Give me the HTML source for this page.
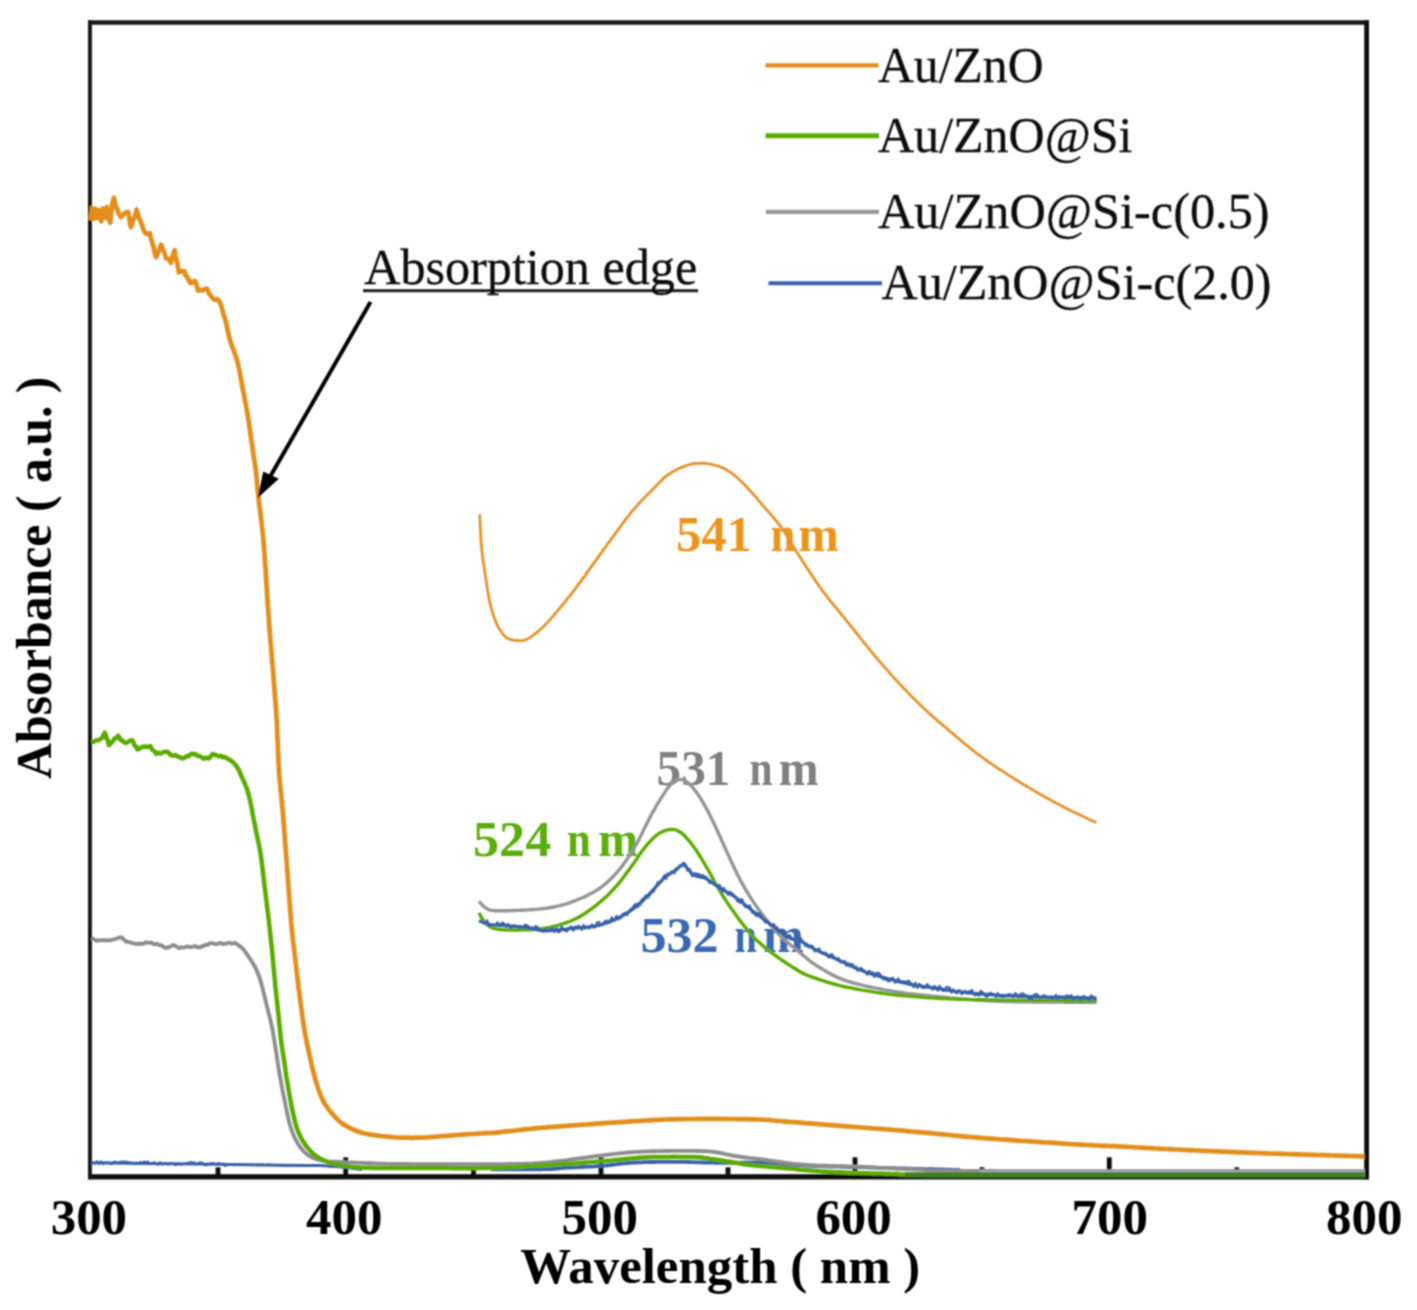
<!DOCTYPE html>
<html lang="en"><head><meta charset="utf-8"><title>UV-vis absorbance</title>
<style>html,body{margin:0;padding:0;background:#fff}svg{display:block}</style></head>
<body>
<svg width="1417" height="1310" viewBox="0 0 1417 1310">
<defs><filter id="bl" x="-2%" y="-2%" width="104%" height="104%"><feConvolveMatrix order="3" kernelMatrix="1 2 1 2 4 2 1 2 1" divisor="16" edgeMode="duplicate" preserveAlpha="false"/></filter></defs>
<rect width="1417" height="1310" fill="#fff"/>
<g filter="url(#bl)">
<rect x="88" y="20.3" width="1281" height="4.4" fill="#151515"/>
<rect x="88" y="1174.2" width="1281" height="5.2" fill="#0c0c0c"/>
<rect x="88" y="20.3" width="3.9" height="1159" fill="#151515"/>
<rect x="1364.2" y="20.3" width="4.8" height="1159" fill="#0c0c0c"/>
<rect x="343.3" y="1157.3" width="4.8" height="18" fill="#111"/>
<rect x="598.6" y="1157.3" width="4.8" height="18" fill="#111"/>
<rect x="852.6" y="1157.3" width="4.8" height="18" fill="#111"/>
<rect x="1106.9" y="1157.3" width="4.8" height="18" fill="#111"/>
<rect x="215.6" y="1167.3" width="4.8" height="8" fill="#111"/>
<rect x="471.1" y="1167.3" width="4.8" height="8" fill="#111"/>
<rect x="725.6" y="1167.3" width="4.8" height="8" fill="#111"/>
<rect x="979.6" y="1167.3" width="4.8" height="8" fill="#111"/>
<rect x="1234.4" y="1167.3" width="4.8" height="8" fill="#111"/>
<path d="M491.0,1169.3 L492.7,1169.3 L494.9,1169.3 L497.4,1169.3 L500.2,1169.3 L503.2,1169.3 L506.5,1169.3 L510.0,1169.3 L513.5,1169.3 L517.2,1169.3 L520.9,1169.3 L524.5,1169.3 L528.1,1169.3 L531.7,1169.3 L535.0,1169.3 L538.2,1169.3 L541.1,1169.3 L543.7,1169.2 L546.0,1169.2 L550.7,1169.1 L554.1,1168.9 L556.7,1168.7 L558.9,1168.4 L561.0,1168.2 L563.6,1167.9 L567.0,1167.7 L569.6,1167.6 L572.5,1167.4 L575.5,1167.3 L578.6,1167.2 L581.8,1167.0 L585.1,1166.9 L588.4,1166.7 L591.7,1166.6 L594.9,1166.4 L598.0,1166.2 L601.0,1166.0 L604.4,1165.7 L607.6,1165.3 L610.7,1165.0 L613.8,1164.6 L616.8,1164.2 L619.9,1163.8 L623.2,1163.4 L626.8,1163.1 L630.6,1162.8 L633.2,1162.7 L635.9,1162.5 L638.8,1162.4 L641.7,1162.3 L644.6,1162.2 L647.7,1162.1 L650.7,1162.0 L653.9,1162.0 L657.0,1161.9 L660.2,1161.9 L663.4,1161.8 L666.6,1161.8 L669.8,1161.8 L673.0,1161.8 L676.0,1161.8 L679.0,1161.8 L682.0,1161.9 L685.1,1161.9 L688.1,1162.0 L691.2,1162.1 L694.3,1162.2 L697.4,1162.3 L700.6,1162.4 L703.7,1162.5 L706.8,1162.6 L710.0,1162.6 L713.2,1162.7 L716.3,1162.8 L719.5,1162.8 L722.5,1162.8 L725.5,1162.8 L728.6,1162.8 L731.8,1162.8 L734.9,1162.8 L738.0,1162.8 L741.2,1162.7 L744.3,1162.7 L747.5,1162.7 L750.6,1162.6 L753.6,1162.6 L756.6,1162.6 L759.6,1162.6 L762.5,1162.7 L765.3,1162.7 L768.0,1162.8 L771.4,1162.9 L774.5,1163.1 L777.4,1163.3 L780.1,1163.6 L782.7,1163.8 L785.3,1164.1 L788.0,1164.3 L790.9,1164.6 L793.9,1164.9 L797.2,1165.1 L800.9,1165.4 L805.0,1165.6 L807.4,1165.7 L809.9,1165.8 L812.4,1165.9 L815.1,1166.0 L817.8,1166.1 L820.5,1166.2 L823.4,1166.3 L826.3,1166.4 L829.2,1166.5 L832.2,1166.5 L835.3,1166.6 L838.4,1166.7 L841.6,1166.8 L844.8,1166.9 L848.1,1167.0 L851.4,1167.0 L854.7,1167.1 L858.1,1167.2 L861.6,1167.3 L865.0,1167.4 L868.5,1167.5 L872.0,1167.6 L874.7,1167.7 L877.6,1167.8 L880.7,1167.8 L883.8,1167.9 L887.0,1168.0 L890.3,1168.1 L893.7,1168.2 L897.2,1168.3 L900.7,1168.4 L904.2,1168.5 L907.8,1168.6 L911.3,1168.7 L914.9,1168.8 L918.4,1168.9 L921.9,1169.0 L925.4,1169.1 L928.8,1169.2 L932.1,1169.2 L935.3,1169.3 L938.5,1169.4 L941.5,1169.5 L944.4,1169.6 L947.2,1169.7 L949.8,1169.7 L952.2,1169.8 L954.5,1169.8 L956.5,1169.9 L958.4,1170.0 L960.0,1170.0" fill="none" stroke="#3A62A8" stroke-width="3.8" stroke-linejoin="round" stroke-linecap="butt" />
<path d="M91.3,938.1 L93.2,938.9 L95.0,939.9 L96.9,940.8 L98.9,940.1 L100.9,940.4 L102.9,940.2 L105.0,940.2 L107.0,940.5 L109.0,940.1 L111.0,940.2 L112.8,939.5 L114.7,939.4 L116.5,938.4 L118.4,937.9 L120.2,937.3 L121.8,937.5 L123.3,939.0 L124.9,940.7 L126.4,941.7 L128.0,941.8 L130.1,942.3 L132.2,943.3 L134.4,943.4 L136.5,944.1 L138.4,943.5 L140.2,944.0 L142.1,943.8 L144.0,943.6 L145.8,942.2 L147.7,942.6 L149.6,942.9 L151.5,942.5 L153.3,943.9 L155.2,944.4 L157.1,943.7 L159.0,945.1 L160.7,945.1 L162.4,945.9 L164.1,947.3 L165.8,947.8 L167.5,947.5 L169.4,947.0 L171.3,946.2 L173.2,945.0 L175.1,945.7 L176.9,946.8 L178.8,948.3 L180.8,947.1 L182.8,947.7 L184.8,947.3 L186.9,946.5 L188.9,946.8 L190.9,947.0 L192.9,946.6 L194.9,946.0 L196.9,947.3 L198.8,947.0 L200.8,947.3 L202.8,946.0 L204.6,945.5 L206.4,944.5 L208.1,944.7 L209.9,943.3 L211.7,943.1 L213.5,943.5 L215.3,944.1 L217.1,944.0 L218.9,943.2 L220.7,943.0 L222.5,944.1 L224.3,943.6 L226.1,943.8 L227.9,942.9 L229.7,942.8 L231.5,943.7 L233.3,943.3 L235.1,942.8 L237.9,944.9 L241.5,947.4 L243.6,949.8 L245.8,952.6 L247.9,955.7 L250.1,958.9 L252.3,962.3 L254.3,965.7 L256.0,969.0 L257.5,972.2 L258.9,975.8 L259.9,978.8 L260.8,981.9 L261.7,985.2 L262.6,988.6 L263.3,991.4 L264.0,994.3 L264.8,997.3 L265.5,1000.3 L266.2,1003.3 L266.9,1006.2 L267.7,1009.1 L268.4,1012.1 L269.2,1015.0 L269.9,1018.0 L270.6,1020.9 L271.2,1023.6 L271.8,1026.4 L272.5,1029.7 L273.2,1033.6 L273.6,1036.2 L274.1,1039.1 L274.6,1042.2 L275.1,1045.5 L275.6,1048.8 L276.2,1052.2 L276.7,1055.4 L277.1,1058.5 L277.6,1061.4 L278.1,1064.8 L278.6,1068.0 L279.1,1071.0 L279.6,1073.9 L280.1,1076.8 L280.6,1079.7 L281.1,1082.7 L281.7,1085.8 L282.2,1088.8 L282.8,1091.9 L283.4,1094.9 L284.0,1098.0 L284.7,1101.0 L285.3,1104.1 L285.9,1107.2 L286.6,1110.4 L287.3,1113.6 L287.9,1116.8 L288.6,1119.9 L289.4,1122.8 L290.1,1125.5 L291.2,1129.0 L292.3,1132.1 L293.5,1135.1 L294.7,1137.8 L296.0,1140.4 L297.7,1143.5 L299.6,1146.3 L301.5,1148.8 L303.5,1151.1 L306.2,1153.7 L309.0,1155.8 L312.0,1157.5 L315.2,1158.9 L318.6,1159.9 L322.7,1160.7 L325.6,1161.1 L328.7,1161.4 L332.1,1161.6 L335.8,1161.8 L339.8,1162.0 L342.5,1162.1 L345.3,1162.3 L348.2,1162.4 L351.3,1162.5 L354.5,1162.6 L357.8,1162.8 L361.3,1162.9 L365.0,1163.0 L367.5,1163.1 L369.6,1163.2 L371.6,1163.3 L373.5,1163.4 L375.6,1163.5 L377.9,1163.6 L380.7,1163.7 L384.2,1163.8 L388.5,1163.9 L393.7,1164.0 L400.0,1164.0 L402.0,1164.0 L404.2,1164.0 L406.6,1164.0 L409.0,1164.0 L411.6,1164.1 L414.3,1164.1 L417.2,1164.1 L420.1,1164.1 L423.1,1164.1 L426.2,1164.1 L429.4,1164.1 L432.7,1164.1 L436.0,1164.2 L439.4,1164.2 L442.8,1164.2 L446.3,1164.2 L449.8,1164.2 L453.3,1164.2 L456.8,1164.2 L460.3,1164.2 L463.9,1164.2 L467.4,1164.2 L470.9,1164.2 L474.4,1164.2 L477.8,1164.2 L481.2,1164.2 L484.6,1164.2 L487.9,1164.2 L491.1,1164.2 L494.3,1164.1 L497.3,1164.1 L500.3,1164.1 L503.2,1164.1 L506.0,1164.1 L508.6,1164.0 L511.2,1164.0 L513.6,1164.0 L515.9,1163.9 L518.0,1163.9 L523.4,1163.8 L528.2,1163.6 L532.5,1163.5 L536.3,1163.3 L539.6,1163.1 L542.6,1162.8 L545.3,1162.6 L547.7,1162.4 L549.9,1162.1 L552.0,1161.9 L554.0,1161.6 L555.9,1161.4 L557.9,1161.2 L560.0,1161.0 L564.7,1160.5 L567.6,1160.1 L569.9,1159.7 L572.9,1159.3 L577.6,1158.6 L579.9,1158.3 L582.5,1158.0 L585.4,1157.6 L588.5,1157.2 L591.7,1156.8 L595.1,1156.3 L598.5,1155.9 L601.9,1155.5 L605.3,1155.0 L608.6,1154.6 L611.8,1154.2 L614.7,1153.9 L617.5,1153.6 L620.0,1153.3 L624.2,1152.9 L627.6,1152.5 L630.6,1152.3 L633.3,1152.1 L636.1,1151.9 L639.3,1151.8 L643.0,1151.6 L645.7,1151.5 L648.7,1151.4 L651.7,1151.3 L654.9,1151.2 L658.2,1151.1 L661.5,1151.1 L664.9,1151.0 L668.3,1151.0 L671.6,1150.9 L674.8,1150.9 L678.0,1150.9 L681.1,1150.9 L684.2,1150.9 L687.4,1150.9 L690.5,1150.9 L693.6,1150.9 L696.7,1151.0 L699.7,1151.0 L702.7,1151.1 L705.6,1151.2 L708.3,1151.4 L711.0,1151.6 L714.4,1152.0 L717.6,1152.5 L720.6,1153.0 L723.5,1153.6 L726.3,1154.3 L729.2,1154.9 L732.1,1155.5 L735.2,1156.0 L738.0,1156.4 L740.7,1156.8 L743.3,1157.2 L746.0,1157.5 L748.8,1157.9 L751.8,1158.2 L754.9,1158.6 L758.3,1159.0 L762.0,1159.5 L764.5,1159.8 L767.2,1160.2 L769.9,1160.6 L772.7,1161.0 L775.6,1161.4 L778.6,1161.8 L781.7,1162.2 L784.8,1162.7 L788.0,1163.1 L791.3,1163.5 L794.6,1163.9 L798.0,1164.2 L801.5,1164.5 L805.0,1164.8 L807.8,1165.0 L810.6,1165.2 L813.6,1165.3 L816.6,1165.5 L819.6,1165.6 L822.7,1165.7 L825.8,1165.8 L829.0,1165.9 L832.1,1166.0 L835.4,1166.0 L838.6,1166.1 L841.8,1166.2 L845.0,1166.3 L848.3,1166.4 L851.5,1166.5 L854.7,1166.6 L857.9,1166.7 L861.0,1166.8 L864.1,1166.9 L867.2,1167.1 L870.3,1167.2 L873.4,1167.4 L876.5,1167.6 L879.6,1167.7 L882.7,1167.9 L885.8,1168.1 L888.9,1168.2 L892.0,1168.4 L895.1,1168.6 L898.3,1168.7 L901.4,1168.9 L904.6,1169.1 L907.8,1169.2 L911.1,1169.3 L914.3,1169.5 L917.6,1169.6 L920.2,1169.7 L922.2,1169.8 L923.6,1169.9 L924.5,1170.0 L925.2,1170.1 L925.7,1170.2 L926.2,1170.2 L926.7,1170.3 L927.3,1170.4 L928.3,1170.5 L929.6,1170.5 L931.5,1170.6 L934.1,1170.6 L937.4,1170.7 L941.6,1170.8 L946.8,1170.8 L953.1,1170.9 L960.7,1170.9 L969.6,1171.0 L980.0,1171.0 L981.8,1171.0 L983.6,1171.0 L985.5,1171.0 L987.5,1171.0 L989.5,1171.0 L991.6,1171.0 L993.7,1171.0 L995.9,1171.0 L998.2,1171.1 L1000.5,1171.1 L1002.8,1171.1 L1005.2,1171.1 L1007.7,1171.1 L1010.2,1171.1 L1012.7,1171.1 L1015.3,1171.1 L1018.0,1171.1 L1020.7,1171.1 L1023.4,1171.1 L1026.2,1171.1 L1029.0,1171.1 L1031.9,1171.1 L1034.8,1171.1 L1037.7,1171.1 L1040.7,1171.1 L1043.7,1171.1 L1046.8,1171.1 L1049.9,1171.1 L1053.0,1171.1 L1056.2,1171.2 L1059.4,1171.2 L1062.6,1171.2 L1065.8,1171.2 L1069.1,1171.2 L1072.4,1171.2 L1075.8,1171.2 L1079.2,1171.2 L1082.6,1171.2 L1086.0,1171.2 L1089.4,1171.2 L1092.9,1171.2 L1096.4,1171.2 L1099.9,1171.2 L1103.4,1171.2 L1106.9,1171.2 L1110.5,1171.2 L1114.1,1171.2 L1117.7,1171.2 L1121.3,1171.2 L1124.9,1171.2 L1128.5,1171.2 L1132.2,1171.2 L1135.8,1171.2 L1139.5,1171.2 L1143.2,1171.2 L1146.8,1171.2 L1150.5,1171.2 L1154.2,1171.2 L1157.9,1171.2 L1161.6,1171.2 L1165.3,1171.2 L1169.0,1171.2 L1172.7,1171.2 L1176.4,1171.2 L1180.1,1171.2 L1183.8,1171.2 L1187.5,1171.2 L1191.2,1171.2 L1194.8,1171.2 L1198.5,1171.2 L1202.2,1171.2 L1205.8,1171.2 L1209.5,1171.2 L1213.1,1171.3 L1216.7,1171.3 L1220.4,1171.3 L1224.0,1171.3 L1227.5,1171.3 L1231.1,1171.3 L1234.6,1171.3 L1238.2,1171.3 L1241.7,1171.3 L1245.2,1171.3 L1248.6,1171.3 L1252.1,1171.3 L1255.5,1171.3 L1258.9,1171.3 L1262.3,1171.3 L1265.6,1171.3 L1269.0,1171.3 L1272.3,1171.3 L1275.5,1171.3 L1278.8,1171.3 L1282.0,1171.3 L1285.1,1171.3 L1288.3,1171.3 L1291.4,1171.3 L1294.4,1171.3 L1297.5,1171.3 L1300.5,1171.3 L1303.4,1171.3 L1306.3,1171.3 L1309.2,1171.3 L1312.0,1171.3 L1314.8,1171.3 L1317.6,1171.3 L1320.3,1171.3 L1322.9,1171.3 L1325.5,1171.3 L1328.1,1171.3 L1330.6,1171.3 L1333.1,1171.3 L1335.5,1171.3 L1337.9,1171.3 L1340.2,1171.3 L1342.4,1171.3 L1344.6,1171.3 L1346.8,1171.3 L1348.9,1171.3 L1350.9,1171.3 L1352.9,1171.3 L1354.8,1171.3 L1356.7,1171.3 L1358.5,1171.3 L1360.2,1171.3 L1361.9,1171.3 L1363.5,1171.3 L1365.0,1171.3" fill="none" stroke="#8E8E8E" stroke-width="3.9" stroke-linejoin="round" stroke-linecap="butt" />
<path d="M91.0,1162.8 L140.0,1163.4 L200.0,1164.0 L260.0,1165.0 L320.0,1165.6 L340.0,1166.8 L362.0,1169.6" fill="none" stroke="#3A62A8" stroke-width="3.0" stroke-linejoin="round" stroke-linecap="butt" />
<path d="M91.0,1164.2 L93.0,1163.1 L95.1,1163.7 L97.1,1161.2 L99.2,1164.0 L101.2,1161.2 L103.2,1164.1 L105.3,1162.6 L107.3,1162.2 L109.4,1163.0 L111.4,1164.4 L113.5,1162.0 L115.5,1161.6 L117.5,1163.0 L119.6,1162.0 L121.6,1161.6 L123.7,1161.8 L125.7,1161.4 L127.8,1162.0 L129.8,1162.4 L131.8,1162.4 L133.9,1164.1 L135.9,1162.4 L138.0,1163.2 L140.0,1162.0 L142.0,1162.7 L144.0,1161.5 L146.0,1162.4 L148.0,1161.5 L150.0,1164.1 L152.0,1163.5 L154.0,1162.2 L156.0,1163.3 L158.0,1164.9 L160.0,1162.0 L162.0,1164.6 L164.0,1163.2 L166.0,1163.4 L168.0,1164.7 L170.0,1163.1 L172.0,1163.5 L174.0,1164.2 L176.0,1165.3 L178.0,1163.0 L180.0,1164.8 L182.0,1164.4 L184.0,1164.1 L186.0,1163.3 L188.0,1163.1 L190.0,1162.1 L192.0,1162.4 L194.0,1162.2 L196.0,1164.6 L198.0,1162.9 L200.0,1162.6 L202.1,1162.4 L204.2,1165.1 L206.2,1165.3 L208.3,1164.6 L210.4,1163.3 L212.5,1163.2 L214.6,1163.4 L216.7,1164.1 L218.8,1163.0 L220.8,1164.1 L222.9,1163.5 L225.0,1166.1 L227.0,1165.1 L229.5,1164.7 L232.1,1164.4 L234.6,1165.2 L237.2,1164.5 L239.7,1164.6 L242.2,1164.3 L244.8,1164.7 L247.3,1164.8 L249.8,1164.9 L252.4,1164.6 L254.9,1164.9 L257.5,1164.5 L260.0,1164.8 L262.5,1164.6 L265.0,1164.9 L267.5,1164.6 L270.0,1164.6 L272.5,1164.9 L275.0,1164.9 L277.5,1165.3 L280.0,1165.2 L282.5,1165.5 L285.0,1165.4 L287.5,1165.5 L290.0,1165.7 L292.5,1165.2 L295.0,1165.2 L297.5,1165.9 L300.0,1165.0 L302.5,1165.6 L305.0,1165.6 L307.5,1165.0 L310.0,1165.8 L312.5,1165.9 L315.0,1165.7 L317.5,1165.8 L320.0,1165.9 L322.5,1165.4 L325.0,1165.9 L327.5,1166.1 L330.0,1166.5 L332.5,1166.7 L335.0,1166.8 L337.5,1166.7 L340.0,1167.2 L342.8,1167.3 L345.5,1167.7 L348.2,1167.6 L351.0,1167.7 L353.8,1168.2 L356.5,1168.8 L359.2,1168.9 L362.0,1169.9" fill="none" stroke="#3A62A8" stroke-width="2.0" stroke-linejoin="round" stroke-linecap="butt" />
<path d="M91.3,741.9 L93.6,741.8 L96.0,740.6 L98.3,740.3 L100.4,739.0 L102.6,737.5 L103.3,735.4 L104.0,734.1 L104.7,732.6 L105.3,734.3 L105.9,735.4 L106.5,737.5 L107.1,739.7 L107.7,740.0 L108.3,743.0 L108.9,745.3 L110.4,743.6 L112.0,742.2 L113.5,740.2 L115.0,738.2 L116.6,738.0 L118.1,735.7 L119.5,738.2 L120.9,740.1 L122.4,740.5 L123.8,742.1 L125.9,742.8 L128.0,742.0 L130.1,740.6 L132.2,740.2 L133.2,741.8 L134.2,744.8 L135.2,746.2 L136.2,746.4 L137.2,749.4 L139.6,748.6 L142.1,746.9 L144.2,746.5 L146.3,747.0 L148.5,746.4 L150.6,746.3 L152.0,749.6 L153.4,750.4 L154.8,751.6 L156.2,753.8 L158.1,752.7 L160.0,753.4 L161.8,753.2 L163.7,751.9 L165.6,751.8 L167.5,751.8 L168.9,752.9 L170.3,754.8 L171.7,755.3 L173.6,755.6 L175.5,755.1 L177.4,756.6 L179.5,756.9 L181.6,758.5 L183.4,757.9 L185.1,757.7 L186.9,755.9 L188.7,756.1 L190.4,754.4 L192.2,753.7 L193.9,754.4 L195.5,754.1 L197.2,755.7 L199.3,756.2 L201.4,756.9 L203.7,758.7 L206.1,757.7 L208.4,758.5 L209.8,757.6 L211.3,755.8 L212.7,754.0 L214.6,754.7 L216.7,755.4 L218.9,756.5 L221.0,755.7 L222.8,757.2 L224.7,757.1 L226.5,757.8 L228.3,759.3 L230.8,760.4 L233.8,762.9 L236.2,765.8 L238.4,769.3 L239.7,771.9 L240.9,774.8 L242.1,777.6 L244.0,781.7 L245.7,785.8 L247.2,789.8 L248.5,794.1 L249.3,797.2 L250.1,800.6 L250.8,804.1 L251.4,807.0 L252.0,810.0 L252.5,813.1 L253.1,816.1 L253.6,818.8 L254.1,821.4 L254.7,824.3 L255.4,828.0 L255.9,830.7 L256.6,833.7 L257.3,837.0 L258.0,840.5 L258.7,843.9 L259.4,847.1 L259.9,850.0 L260.5,853.5 L261.0,856.7 L261.4,859.6 L261.8,862.7 L262.2,866.0 L262.6,869.0 L262.9,872.1 L263.3,875.3 L263.7,878.6 L264.1,881.9 L264.5,885.4 L264.9,888.5 L265.3,891.6 L265.7,894.9 L266.1,898.2 L266.5,901.5 L266.9,904.8 L267.3,908.0 L267.7,911.1 L268.1,914.2 L268.4,917.2 L268.8,920.2 L269.1,923.3 L269.5,926.6 L269.9,930.0 L270.2,932.8 L270.5,935.7 L270.8,938.7 L271.1,941.7 L271.5,944.9 L271.8,948.0 L272.1,951.2 L272.4,954.3 L272.7,957.5 L273.0,960.7 L273.3,963.9 L273.6,967.1 L273.9,970.4 L274.2,973.7 L274.5,977.0 L274.8,980.3 L275.1,983.5 L275.4,986.8 L275.7,990.1 L276.1,993.4 L276.5,996.8 L276.8,1000.1 L277.2,1003.4 L277.6,1006.7 L277.9,1010.0 L278.3,1013.1 L278.6,1016.1 L278.9,1019.4 L279.2,1022.5 L279.5,1025.6 L279.8,1028.5 L280.1,1031.5 L280.4,1034.3 L280.7,1037.2 L281.0,1040.0 L281.4,1043.2 L281.9,1046.3 L282.3,1049.4 L282.8,1052.4 L283.3,1055.4 L283.7,1058.4 L284.2,1061.4 L284.7,1064.4 L285.1,1067.5 L285.5,1070.5 L286.0,1073.6 L286.4,1076.6 L286.9,1079.7 L287.4,1082.7 L287.9,1085.8 L288.4,1088.8 L288.9,1091.9 L289.5,1094.9 L290.0,1098.0 L290.6,1101.0 L291.2,1104.1 L291.8,1107.2 L292.5,1110.5 L293.2,1113.7 L293.9,1116.9 L294.6,1120.0 L295.3,1122.9 L296.0,1125.5 L297.3,1129.4 L298.5,1132.6 L299.9,1135.5 L301.3,1138.3 L303.3,1141.8 L305.4,1145.0 L307.7,1147.9 L310.0,1150.6 L312.5,1153.1 L315.2,1155.4 L318.2,1157.4 L321.5,1159.2 L324.8,1160.7 L327.9,1162.0 L331.0,1163.0 L334.4,1163.9 L337.0,1164.5 L339.7,1165.1 L342.7,1165.6 L346.2,1166.1 L348.5,1166.4 L350.6,1166.7 L352.9,1167.0 L355.8,1167.3 L359.7,1167.5 L365.0,1167.7 L367.1,1167.7 L369.4,1167.8 L371.9,1167.8 L374.5,1167.9 L377.2,1167.9 L380.1,1167.9 L383.1,1167.9 L386.1,1167.9 L389.3,1168.0 L392.5,1168.0 L395.8,1168.0 L399.2,1168.0 L402.6,1168.0 L406.1,1168.0 L409.5,1168.0 L413.0,1168.0 L416.5,1168.0 L420.0,1168.0 L422.8,1168.0 L425.6,1168.0 L428.6,1168.0 L431.6,1168.0 L434.6,1168.1 L437.8,1168.1 L440.9,1168.1 L444.1,1168.1 L447.3,1168.1 L450.6,1168.1 L453.8,1168.2 L457.1,1168.2 L460.3,1168.2 L463.5,1168.2 L466.7,1168.2 L469.9,1168.2 L473.0,1168.2 L476.0,1168.2 L479.0,1168.1 L481.9,1168.1 L484.7,1168.1 L487.4,1168.0 L490.0,1168.0 L493.9,1167.9 L497.6,1167.8 L501.2,1167.7 L504.8,1167.5 L508.2,1167.4 L511.5,1167.2 L514.8,1167.1 L517.9,1166.9 L520.9,1166.7 L523.9,1166.5 L526.8,1166.3 L529.6,1166.2 L532.3,1166.0 L535.0,1165.8 L537.6,1165.7 L541.6,1165.5 L545.3,1165.3 L548.6,1165.1 L551.7,1164.9 L554.6,1164.7 L557.5,1164.5 L560.5,1164.3 L563.6,1164.1 L567.0,1163.9 L569.9,1163.7 L573.0,1163.5 L576.1,1163.3 L579.2,1163.0 L582.4,1162.8 L585.6,1162.5 L588.8,1162.3 L591.9,1162.0 L595.0,1161.8 L598.1,1161.5 L601.0,1161.3 L604.5,1161.0 L608.0,1160.7 L611.5,1160.4 L614.9,1160.0 L618.3,1159.7 L621.5,1159.4 L624.7,1159.1 L627.7,1158.8 L630.6,1158.6 L633.9,1158.3 L636.6,1158.0 L639.1,1157.8 L641.6,1157.6 L644.4,1157.4 L647.6,1157.2 L651.7,1157.1 L654.1,1157.0 L656.8,1157.0 L659.7,1157.0 L662.9,1156.9 L666.1,1156.9 L669.5,1156.9 L672.9,1156.8 L676.2,1156.8 L679.6,1156.9 L682.8,1156.9 L686.0,1156.9 L688.9,1157.0 L691.6,1157.0 L694.0,1157.1 L698.1,1157.3 L701.6,1157.6 L704.5,1158.0 L707.1,1158.3 L709.6,1158.8 L712.2,1159.2 L715.0,1159.6 L718.1,1160.0 L721.3,1160.5 L724.5,1161.0 L727.6,1161.5 L730.7,1162.0 L733.5,1162.4 L736.0,1162.8 L739.2,1163.4 L741.4,1163.8 L743.9,1164.3 L748.0,1164.8 L750.2,1165.0 L752.7,1165.3 L755.3,1165.5 L758.1,1165.8 L761.1,1166.1 L764.2,1166.3 L767.6,1166.6 L771.2,1166.9 L775.0,1167.3 L779.0,1167.6 L781.5,1167.8 L784.0,1168.1 L786.7,1168.3 L789.5,1168.6 L792.3,1168.8 L795.2,1169.1 L798.2,1169.4 L801.2,1169.7 L804.3,1169.9 L807.4,1170.2 L810.6,1170.5 L813.8,1170.8 L817.0,1171.0 L820.3,1171.3 L823.5,1171.5 L826.8,1171.7 L830.0,1171.9 L832.9,1172.1 L835.8,1172.2 L838.7,1172.3 L841.7,1172.5 L844.6,1172.6 L847.6,1172.7 L850.6,1172.8 L853.7,1172.9 L856.7,1173.0 L859.8,1173.1 L862.9,1173.2 L866.0,1173.3 L869.2,1173.3 L872.4,1173.4 L875.7,1173.5 L878.9,1173.6 L882.2,1173.6 L885.6,1173.7 L889.0,1173.8 L891.5,1173.9 L893.6,1173.9 L895.2,1174.0 L896.5,1174.1 L897.5,1174.1 L898.3,1174.2 L899.0,1174.3 L899.6,1174.3 L900.3,1174.4 L901.2,1174.4 L902.2,1174.5 L903.6,1174.5 L905.3,1174.6 L907.4,1174.7 L910.1,1174.7 L913.4,1174.7 L917.4,1174.8 L922.1,1174.8 L927.7,1174.9 L934.2,1174.9 L941.7,1174.9 L950.3,1175.0 L960.0,1175.0 L961.8,1175.0 L963.6,1175.0 L965.5,1175.0 L967.5,1175.0 L969.5,1175.0 L971.6,1175.0 L973.7,1175.0 L975.9,1175.0 L978.1,1175.0 L980.4,1175.0 L982.8,1175.0 L985.1,1175.0 L987.6,1175.0 L990.0,1175.0 L992.6,1175.1 L995.1,1175.1 L997.7,1175.1 L1000.4,1175.1 L1003.1,1175.1 L1005.8,1175.1 L1008.6,1175.1 L1011.4,1175.1 L1014.3,1175.1 L1017.2,1175.1 L1020.1,1175.1 L1023.1,1175.1 L1026.1,1175.1 L1029.1,1175.1 L1032.2,1175.1 L1035.3,1175.1 L1038.5,1175.1 L1041.6,1175.1 L1044.8,1175.1 L1048.1,1175.1 L1051.3,1175.1 L1054.6,1175.1 L1057.9,1175.1 L1061.3,1175.1 L1064.6,1175.1 L1068.0,1175.1 L1071.4,1175.1 L1074.8,1175.1 L1078.3,1175.1 L1081.8,1175.1 L1085.3,1175.1 L1088.8,1175.1 L1092.3,1175.1 L1095.8,1175.1 L1099.4,1175.1 L1103.0,1175.1 L1106.6,1175.1 L1110.2,1175.1 L1113.8,1175.1 L1117.4,1175.1 L1121.0,1175.1 L1124.7,1175.1 L1128.3,1175.1 L1132.0,1175.1 L1135.6,1175.1 L1139.3,1175.1 L1143.0,1175.1 L1146.7,1175.1 L1150.4,1175.1 L1154.0,1175.1 L1157.7,1175.1 L1161.4,1175.1 L1165.1,1175.1 L1168.8,1175.1 L1172.5,1175.1 L1176.1,1175.1 L1179.8,1175.1 L1183.5,1175.1 L1187.1,1175.1 L1190.8,1175.1 L1194.5,1175.1 L1198.1,1175.1 L1201.7,1175.1 L1205.3,1175.1 L1208.9,1175.1 L1212.5,1175.1 L1216.1,1175.1 L1219.7,1175.1 L1223.3,1175.1 L1226.8,1175.1 L1230.3,1175.1 L1233.8,1175.1 L1237.3,1175.0 L1240.8,1175.0 L1244.2,1175.0 L1247.6,1175.0 L1251.0,1175.0 L1254.4,1175.0 L1257.8,1175.0 L1261.1,1175.0 L1264.4,1175.0 L1267.7,1175.0 L1270.9,1175.0 L1274.1,1175.0 L1277.3,1175.0 L1280.5,1175.0 L1283.6,1175.0 L1286.7,1175.0 L1289.8,1175.0 L1292.8,1175.0 L1295.8,1175.0 L1298.8,1175.0 L1301.7,1175.0 L1304.6,1175.0 L1307.4,1175.0 L1310.2,1175.0 L1313.0,1175.0 L1315.7,1175.0 L1318.4,1175.0 L1321.0,1175.0 L1323.6,1175.0 L1326.2,1175.0 L1328.7,1175.0 L1331.2,1175.0 L1333.6,1175.0 L1335.9,1175.0 L1338.3,1175.0 L1340.5,1175.0 L1342.7,1175.0 L1344.9,1175.0 L1347.0,1175.0 L1349.1,1175.0 L1351.1,1175.0 L1353.0,1175.0 L1354.9,1175.0 L1356.7,1175.0 L1358.5,1175.0 L1360.2,1175.0 L1361.9,1175.0 L1363.5,1175.0 L1365.0,1175.0" fill="none" stroke="#5BAB06" stroke-width="4.5" stroke-linejoin="round" stroke-linecap="butt" />
<rect x="905" y="1172.3" width="459.2" height="5.2" fill="#3F7F22"/>
<rect x="980" y="1170.5" width="384.2" height="1.5" fill="#A4ACBC"/>
<path d="M90.6,220.5 L90.8,218.1 L91.1,217.4 L91.3,213.9 L91.5,213.1 L91.8,210.7 L92.0,207.9 L92.4,211.2 L92.7,212.2 L93.1,215.4 L93.4,216.7 L93.8,218.9 L94.1,217.5 L94.5,216.2 L94.8,212.1 L95.2,210.1 L95.5,208.8 L95.9,211.8 L96.3,212.9 L96.7,214.5 L97.1,218.1 L97.5,217.8 L98.0,217.9 L98.4,214.5 L98.8,212.1 L99.3,210.0 L99.7,212.5 L100.1,215.8 L100.4,216.2 L100.8,219.2 L101.2,221.4 L101.5,218.5 L101.8,216.8 L102.1,213.4 L102.4,211.2 L102.7,209.4 L103.0,208.5 L103.4,209.8 L103.8,211.5 L104.2,214.2 L104.6,215.9 L105.0,217.5 L105.4,216.6 L105.7,214.1 L106.1,210.7 L106.4,209.4 L106.8,207.1 L107.1,210.0 L107.4,211.6 L107.7,212.4 L107.9,216.2 L108.2,216.0 L108.5,218.8 L110.3,222.7 L110.5,219.0 L110.7,217.7 L110.9,214.4 L111.2,213.9 L111.4,212.1 L111.6,209.4 L111.8,208.1 L112.0,204.5 L112.6,203.0 L113.3,200.2 L113.9,197.7 L114.4,199.5 L115.0,202.6 L115.5,205.0 L116.0,205.9 L116.7,208.5 L117.4,209.1 L118.1,212.8 L119.5,214.5 L120.9,217.2 L122.7,215.7 L124.5,213.2 L126.2,212.4 L128.0,212.0 L128.3,212.4 L128.7,215.6 L129.1,216.8 L129.4,218.8 L129.8,220.6 L130.1,224.5 L130.5,224.9 L130.8,227.2 L131.4,225.6 L132.1,224.9 L132.7,220.9 L133.3,219.9 L134.0,218.2 L134.6,217.1 L135.2,215.0 L135.9,213.1 L136.5,209.6 L137.2,212.0 L137.9,213.8 L138.6,217.2 L139.3,219.4 L140.0,219.3 L140.7,221.4 L141.5,223.6 L142.3,225.7 L143.1,228.5 L144.0,230.9 L144.8,232.2 L145.6,233.6 L147.8,234.0 L149.9,233.2 L150.4,235.7 L150.9,238.7 L151.5,240.0 L152.0,241.5 L152.5,243.8 L153.1,246.0 L153.6,246.3 L154.1,250.5 L154.6,252.2 L155.1,254.5 L155.7,256.3 L156.2,257.2 L157.0,255.2 L157.9,252.5 L158.7,251.8 L159.5,248.4 L160.4,246.4 L161.2,244.7 L161.9,246.5 L162.6,248.9 L163.3,250.1 L164.0,251.9 L164.7,254.2 L165.4,255.9 L166.1,258.5 L168.6,259.1 L171.0,262.7 L171.7,259.8 L172.4,256.3 L173.2,254.3 L173.9,252.3 L174.6,250.1 L175.0,251.6 L175.4,255.6 L175.9,258.1 L176.3,258.9 L176.7,261.0 L177.1,262.1 L177.5,264.2 L178.0,267.0 L178.4,268.9 L178.8,272.5 L181.6,271.1 L184.4,271.1 L185.3,275.2 L186.3,275.9 L187.2,276.7 L188.2,279.5 L189.2,279.9 L190.1,283.0 L192.6,282.7 L195.0,281.0 L195.6,282.6 L196.2,283.4 L196.7,285.7 L197.3,287.2 L197.9,290.7 L200.2,289.9 L202.4,290.4 L204.7,289.0 L207.0,288.6 L208.3,291.9 L209.6,294.2 L210.8,295.7 L212.1,297.4 L213.4,299.2 L215.3,299.8 L217.1,299.2 L219.0,300.6 L219.7,302.3 L220.4,303.6 L221.2,305.7 L221.9,308.4 L222.6,310.5 L223.3,313.7 L224.0,316.5 L224.7,317.3 L225.4,320.7 L225.9,321.8 L226.5,324.8 L227.2,328.4 L228.1,332.3 L229.0,336.3 L230.0,340.0 L230.9,343.0 L232.0,346.0 L233.1,349.0 L234.3,352.1 L235.4,355.2 L236.5,358.5 L237.5,362.0 L238.2,364.9 L238.9,367.8 L239.5,370.9 L240.1,374.1 L240.7,377.3 L241.3,380.5 L241.8,383.7 L242.4,386.9 L243.0,390.0 L243.6,393.0 L244.2,396.0 L244.7,399.0 L245.3,402.0 L245.9,405.0 L246.4,408.0 L247.0,411.0 L247.5,414.0 L248.0,417.0 L248.5,420.1 L249.0,423.2 L249.4,426.3 L249.8,429.4 L250.3,432.6 L250.7,435.7 L251.1,438.8 L251.6,441.9 L252.0,445.0 L252.5,448.0 L252.9,451.1 L253.4,454.1 L253.9,457.1 L254.3,460.1 L254.8,463.1 L255.2,466.1 L255.6,469.0 L256.0,472.0 L256.4,475.3 L256.7,478.7 L257.0,482.1 L257.3,485.4 L257.6,488.7 L257.9,491.9 L258.2,495.0 L258.5,498.0 L258.9,501.6 L259.3,504.7 L259.7,507.7 L260.1,510.8 L260.5,514.1 L261.0,518.0 L261.3,520.5 L261.6,522.8 L261.8,525.2 L262.1,527.7 L262.4,530.3 L262.7,533.2 L263.0,536.4 L263.4,540.0 L263.7,544.0 L264.1,548.7 L264.3,551.0 L264.5,553.6 L264.7,556.2 L264.8,559.0 L265.0,562.0 L265.2,565.0 L265.5,568.2 L265.7,571.4 L265.9,574.7 L266.1,578.1 L266.3,581.4 L266.5,584.9 L266.7,588.3 L267.0,591.7 L267.2,595.2 L267.4,598.5 L267.6,601.9 L267.8,605.2 L268.1,608.4 L268.3,611.5 L268.5,614.6 L268.7,617.5 L268.9,620.8 L269.2,624.1 L269.4,627.3 L269.7,630.5 L269.9,633.7 L270.2,636.8 L270.4,639.9 L270.7,643.0 L270.9,646.0 L271.2,649.0 L271.4,652.0 L271.7,655.0 L271.9,657.9 L272.2,660.8 L272.4,663.6 L272.6,666.4 L272.9,669.2 L273.1,672.0 L273.3,674.7 L273.6,678.1 L273.8,681.3 L274.1,684.5 L274.3,687.6 L274.6,690.7 L274.8,693.7 L275.0,696.6 L275.3,699.5 L275.5,702.5 L275.7,705.4 L275.9,708.3 L276.1,711.3 L276.3,714.3 L276.5,717.4 L276.7,720.5 L276.9,723.5 L277.0,726.5 L277.2,729.6 L277.3,732.7 L277.4,735.7 L277.6,738.9 L277.7,742.0 L277.8,745.1 L277.9,748.2 L278.0,751.4 L278.2,754.5 L278.3,757.6 L278.5,760.8 L278.6,763.9 L278.8,766.9 L279.0,770.0 L279.2,773.0 L279.4,776.0 L279.7,778.9 L279.9,781.7 L280.2,784.6 L280.4,787.4 L280.7,790.2 L281.0,793.1 L281.3,796.0 L281.6,798.9 L281.9,801.9 L282.1,804.9 L282.4,808.0 L282.7,811.2 L283.0,814.6 L283.3,818.0 L283.5,820.7 L283.7,823.5 L284.0,826.4 L284.2,829.4 L284.4,832.5 L284.7,835.6 L284.9,838.7 L285.1,841.9 L285.4,845.1 L285.6,848.4 L285.8,851.6 L286.1,854.9 L286.3,858.1 L286.6,861.3 L286.8,864.4 L287.0,867.5 L287.2,870.6 L287.5,873.6 L287.7,876.5 L287.9,879.3 L288.1,882.0 L288.4,885.5 L288.6,888.9 L288.9,892.3 L289.1,895.6 L289.4,898.9 L289.6,902.1 L289.9,905.2 L290.1,908.3 L290.3,911.3 L290.6,914.2 L290.8,917.1 L291.0,919.8 L291.2,922.5 L291.5,925.1 L291.7,927.6 L291.9,930.0 L292.3,934.0 L292.7,937.5 L293.0,940.7 L293.4,943.6 L293.7,946.4 L294.1,949.1 L294.4,951.8 L294.7,954.6 L295.1,957.5 L295.5,960.6 L295.8,963.7 L296.2,966.8 L296.5,970.0 L296.9,973.1 L297.2,976.2 L297.6,979.2 L298.0,982.1 L298.3,985.0 L298.7,988.5 L299.2,991.9 L299.6,995.2 L300.0,998.4 L300.4,1001.6 L300.9,1004.8 L301.3,1008.0 L301.7,1011.2 L302.1,1014.3 L302.5,1017.4 L303.0,1020.5 L303.4,1023.7 L304.0,1027.1 L304.6,1030.8 L305.1,1033.6 L305.7,1036.6 L306.3,1039.7 L306.9,1042.9 L307.6,1046.2 L308.3,1049.5 L309.0,1052.7 L309.6,1055.8 L310.3,1058.7 L310.9,1061.4 L311.7,1065.0 L312.5,1068.3 L313.2,1071.4 L314.0,1074.4 L314.7,1077.2 L315.5,1080.0 L316.3,1082.7 L317.3,1085.8 L318.3,1088.9 L319.3,1091.8 L320.4,1094.6 L321.5,1097.2 L322.7,1099.8 L324.2,1102.7 L325.8,1105.3 L327.5,1107.8 L329.3,1110.2 L331.2,1112.6 L333.2,1114.9 L335.3,1117.2 L337.4,1119.4 L339.7,1121.5 L341.9,1123.3 L344.8,1125.3 L347.8,1126.9 L350.8,1128.4 L353.7,1129.7 L357.4,1131.2 L361.1,1132.5 L365.0,1133.5 L368.0,1134.1 L370.9,1134.7 L374.2,1135.1 L378.0,1135.6 L380.9,1136.0 L384.1,1136.3 L387.6,1136.7 L391.1,1137.0 L394.9,1137.3 L398.7,1137.5 L401.6,1137.6 L404.6,1137.7 L407.7,1137.7 L410.8,1137.8 L414.1,1137.8 L417.4,1137.7 L420.9,1137.6 L424.4,1137.5 L427.3,1137.4 L430.2,1137.2 L433.2,1136.9 L436.3,1136.7 L439.4,1136.4 L442.6,1136.1 L445.9,1135.8 L449.3,1135.6 L452.8,1135.3 L456.4,1135.0 L459.3,1134.8 L462.3,1134.6 L465.4,1134.4 L468.6,1134.2 L471.8,1134.0 L475.1,1133.9 L478.4,1133.7 L481.7,1133.5 L485.0,1133.2 L488.3,1133.0 L491.6,1132.8 L494.8,1132.6 L498.0,1132.3 L501.1,1132.0 L504.0,1131.7 L506.9,1131.4 L509.8,1131.1 L512.6,1130.8 L515.4,1130.5 L518.3,1130.1 L521.2,1129.8 L524.2,1129.4 L527.4,1129.1 L530.6,1128.8 L534.0,1128.4 L537.6,1128.1 L540.4,1127.9 L543.3,1127.6 L546.3,1127.4 L549.5,1127.1 L552.7,1126.9 L556.1,1126.6 L559.5,1126.4 L562.9,1126.1 L566.3,1125.9 L569.7,1125.6 L573.1,1125.4 L576.4,1125.1 L579.7,1124.9 L582.8,1124.7 L585.9,1124.5 L588.7,1124.3 L591.5,1124.1 L594.0,1123.9 L598.1,1123.6 L601.7,1123.3 L605.0,1123.1 L607.9,1122.9 L610.7,1122.7 L613.4,1122.6 L616.1,1122.4 L619.0,1122.2 L622.0,1122.0 L625.4,1121.8 L628.2,1121.6 L631.0,1121.4 L633.9,1121.2 L636.9,1121.1 L639.9,1120.9 L643.0,1120.7 L646.1,1120.5 L649.3,1120.3 L652.5,1120.1 L655.7,1119.9 L659.0,1119.8 L662.3,1119.6 L665.6,1119.5 L668.5,1119.4 L671.5,1119.3 L674.5,1119.3 L677.5,1119.2 L680.6,1119.1 L683.7,1119.1 L686.8,1119.0 L690.0,1119.0 L693.1,1119.0 L696.3,1118.9 L699.4,1118.9 L702.6,1118.9 L705.7,1118.9 L708.9,1118.9 L712.0,1118.9 L715.1,1118.9 L718.4,1118.9 L721.6,1118.9 L725.0,1118.9 L728.3,1119.0 L731.6,1119.0 L734.9,1119.0 L738.2,1119.1 L741.5,1119.1 L744.6,1119.1 L747.7,1119.2 L750.7,1119.3 L753.5,1119.3 L756.2,1119.4 L758.8,1119.5 L762.6,1119.7 L765.9,1119.8 L768.8,1120.0 L771.5,1120.3 L774.1,1120.5 L776.7,1120.8 L779.6,1121.0 L782.7,1121.3 L786.3,1121.6 L788.9,1121.8 L791.5,1122.0 L794.3,1122.2 L797.2,1122.4 L800.2,1122.7 L803.2,1122.9 L806.3,1123.2 L809.5,1123.4 L812.6,1123.7 L815.9,1123.9 L819.1,1124.2 L822.3,1124.4 L825.5,1124.7 L828.7,1124.9 L831.7,1125.1 L834.7,1125.4 L837.7,1125.6 L840.8,1125.8 L843.9,1126.1 L847.0,1126.3 L850.1,1126.5 L853.2,1126.8 L856.4,1127.0 L859.5,1127.3 L862.7,1127.5 L865.8,1127.8 L868.9,1128.0 L872.1,1128.3 L875.2,1128.5 L878.3,1128.7 L881.4,1129.0 L884.5,1129.2 L887.6,1129.5 L890.6,1129.7 L893.7,1130.0 L896.8,1130.2 L899.9,1130.5 L903.0,1130.7 L906.1,1131.0 L909.3,1131.3 L912.5,1131.5 L915.7,1131.8 L919.0,1132.1 L922.3,1132.4 L925.3,1132.7 L928.3,1132.9 L931.3,1133.2 L934.3,1133.5 L937.4,1133.8 L940.5,1134.1 L943.6,1134.4 L946.7,1134.7 L949.9,1135.0 L953.0,1135.4 L956.2,1135.7 L959.4,1136.0 L962.6,1136.3 L965.7,1136.6 L968.9,1136.9 L972.1,1137.1 L975.3,1137.4 L978.3,1137.6 L981.3,1137.9 L984.4,1138.1 L987.4,1138.4 L990.4,1138.6 L993.5,1138.8 L996.5,1139.0 L999.6,1139.3 L1002.7,1139.5 L1005.8,1139.7 L1008.8,1139.9 L1011.9,1140.1 L1015.0,1140.3 L1018.1,1140.6 L1021.2,1140.8 L1024.3,1141.0 L1027.4,1141.2 L1030.5,1141.4 L1033.6,1141.6 L1036.8,1141.8 L1040.1,1142.0 L1043.4,1142.3 L1046.7,1142.5 L1050.0,1142.7 L1053.4,1142.9 L1056.7,1143.1 L1060.0,1143.4 L1063.3,1143.6 L1066.5,1143.8 L1069.7,1144.0 L1072.8,1144.2 L1075.9,1144.3 L1078.8,1144.5 L1081.7,1144.7 L1084.4,1144.9 L1087.0,1145.0 L1090.9,1145.2 L1094.4,1145.4 L1097.5,1145.5 L1100.3,1145.7 L1103.1,1145.8 L1105.7,1145.9 L1108.5,1146.0 L1111.4,1146.1 L1114.5,1146.2 L1118.0,1146.4 L1122.0,1146.6 L1124.5,1146.7 L1127.1,1146.9 L1129.7,1147.0 L1132.5,1147.2 L1135.3,1147.3 L1138.1,1147.5 L1141.1,1147.6 L1144.1,1147.8 L1147.1,1148.0 L1150.2,1148.1 L1153.4,1148.3 L1156.6,1148.5 L1159.9,1148.7 L1163.1,1148.8 L1166.5,1149.0 L1169.8,1149.2 L1173.2,1149.4 L1176.6,1149.5 L1180.0,1149.7 L1182.7,1149.8 L1185.5,1150.0 L1188.3,1150.1 L1191.2,1150.2 L1194.1,1150.4 L1197.0,1150.5 L1200.0,1150.6 L1203.0,1150.8 L1206.0,1150.9 L1209.0,1151.0 L1212.1,1151.2 L1215.1,1151.3 L1218.2,1151.4 L1221.3,1151.6 L1224.4,1151.7 L1227.5,1151.8 L1230.6,1151.9 L1233.7,1152.1 L1236.8,1152.2 L1239.8,1152.3 L1242.9,1152.4 L1246.0,1152.6 L1249.0,1152.7 L1252.0,1152.8 L1255.0,1152.9 L1258.1,1153.0 L1261.2,1153.1 L1264.4,1153.3 L1267.5,1153.4 L1270.7,1153.5 L1273.9,1153.6 L1277.2,1153.7 L1280.4,1153.8 L1283.6,1153.9 L1286.8,1154.0 L1290.0,1154.1 L1293.1,1154.2 L1296.2,1154.3 L1299.3,1154.4 L1302.3,1154.5 L1305.3,1154.6 L1308.2,1154.7 L1311.0,1154.8 L1313.8,1154.9 L1316.5,1155.0 L1319.1,1155.0 L1321.6,1155.1 L1324.0,1155.2 L1328.3,1155.3 L1332.4,1155.5 L1336.4,1155.6 L1340.2,1155.7 L1343.8,1155.8 L1347.2,1155.9 L1350.4,1156.0 L1353.4,1156.1 L1356.2,1156.2 L1358.7,1156.2 L1361.0,1156.3 L1363.0,1156.4 L1364.7,1156.4" fill="none" stroke="#E38E1E" stroke-width="4.7" stroke-linejoin="round" stroke-linecap="butt" />
<text y="551.3" font-family="'Liberation Serif', serif" font-size="50" font-weight="bold" fill="#EC951F"><tspan x="676.0" textLength="75.8" lengthAdjust="spacingAndGlyphs">541</tspan> <tspan x="770.6" textLength="25.0" lengthAdjust="spacingAndGlyphs">n</tspan><tspan x="798.2" textLength="40.6" lengthAdjust="spacingAndGlyphs">m</tspan></text>
<text y="785.3" font-family="'Liberation Serif', serif" font-size="50" font-weight="bold" fill="#808080"><tspan x="656.6" textLength="73.9" lengthAdjust="spacingAndGlyphs">531</tspan> <tspan x="749.4" textLength="23.1" lengthAdjust="spacingAndGlyphs">n</tspan><tspan x="778.8" textLength="39.9" lengthAdjust="spacingAndGlyphs">m</tspan></text>
<text y="855.8" font-family="'Liberation Serif', serif" font-size="50" font-weight="bold" fill="#5CAE0C"><tspan x="473.0" textLength="78.2" lengthAdjust="spacingAndGlyphs">524</tspan> <tspan x="567.0" textLength="23.8" lengthAdjust="spacingAndGlyphs">n</tspan><tspan x="598.2" textLength="40.0" lengthAdjust="spacingAndGlyphs">m</tspan></text>
<text y="952" font-family="'Liberation Serif', serif" font-size="50" font-weight="bold" fill="#3A68B2"><tspan x="640.4" textLength="78.2" lengthAdjust="spacingAndGlyphs">532</tspan> <tspan x="734.4" textLength="22.5" lengthAdjust="spacingAndGlyphs">n</tspan><tspan x="763.2" textLength="40.6" lengthAdjust="spacingAndGlyphs">m</tspan></text>
<path d="M479.0,901.3 L480.5,903.1 L482.7,905.6 L485.4,907.7 L487.6,909.1 L490.2,910.1 L495.6,910.7 L497.9,910.8 L500.7,910.8 L503.7,910.8 L507.1,910.7 L510.6,910.6 L514.2,910.5 L517.9,910.4 L521.5,910.2 L524.9,910.1 L528.2,909.9 L531.1,909.7 L534.8,909.4 L538.3,909.1 L541.6,908.8 L544.7,908.4 L547.8,908.0 L550.7,907.5 L553.6,907.0 L556.5,906.4 L559.7,905.7 L562.7,904.9 L565.6,904.1 L568.4,903.2 L571.2,902.2 L574.0,901.1 L576.9,900.0 L579.8,898.8 L582.9,897.5 L585.9,896.1 L588.9,894.6 L591.8,893.1 L594.6,891.5 L597.2,889.9 L600.1,888.0 L602.7,886.0 L605.3,883.9 L607.7,881.7 L610.1,879.5 L612.4,877.2 L614.7,874.9 L616.8,872.5 L618.9,870.1 L621.0,867.5 L623.0,864.9 L625.1,862.0 L626.7,859.7 L628.3,857.4 L629.9,855.0 L631.5,852.4 L633.0,849.8 L634.6,847.2 L636.2,844.4 L637.8,841.6 L639.2,839.0 L640.6,836.2 L642.0,833.4 L643.4,830.4 L644.8,827.5 L646.3,824.6 L647.7,821.7 L649.1,818.9 L650.5,816.2 L652.1,813.2 L653.8,810.3 L655.5,807.4 L657.1,804.5 L658.8,801.8 L660.4,799.2 L661.9,796.8 L663.3,794.6 L665.8,790.9 L667.9,787.8 L670.0,785.3 L672.1,783.2 L675.1,781.0 L678.0,779.7 L681.0,779.4 L683.9,780.1 L686.7,781.7 L689.9,784.5 L691.7,786.3 L693.5,788.5 L695.4,790.9 L697.4,793.6 L699.4,796.5 L701.4,799.7 L702.8,802.0 L704.1,804.4 L705.5,806.9 L707.0,809.6 L708.4,812.3 L709.8,815.1 L711.3,818.0 L712.7,820.9 L714.1,823.8 L715.4,826.4 L716.6,829.2 L717.9,832.0 L719.2,834.8 L720.5,837.6 L721.7,840.5 L723.0,843.4 L724.3,846.2 L725.5,849.0 L726.8,851.8 L728.2,854.9 L729.6,857.9 L731.0,861.0 L732.4,864.0 L733.9,867.1 L735.3,870.0 L736.7,872.9 L738.1,875.8 L739.5,878.5 L741.1,881.5 L742.7,884.4 L744.3,887.1 L745.9,889.9 L747.4,892.5 L749.0,895.1 L750.6,897.6 L752.2,900.1 L754.0,902.8 L755.8,905.4 L757.5,908.0 L759.3,910.4 L761.1,912.8 L763.0,915.3 L764.9,917.8 L766.9,920.3 L768.9,922.9 L771.0,925.5 L773.2,928.1 L775.4,930.6 L777.7,933.1 L780.1,935.6 L782.3,937.7 L784.7,939.9 L787.1,942.0 L789.6,944.1 L792.0,946.1 L794.5,948.2 L796.9,950.1 L799.2,952.0 L801.7,954.1 L804.0,956.0 L806.2,957.9 L808.4,959.7 L810.7,961.5 L813.2,963.3 L816.0,965.2 L818.4,966.7 L820.8,968.2 L823.5,969.8 L826.2,971.4 L828.9,972.9 L831.7,974.4 L834.5,975.9 L837.3,977.2 L840.0,978.4 L843.0,979.6 L846.0,980.7 L849.0,981.6 L852.0,982.5 L855.0,983.3 L858.0,984.1 L861.0,984.9 L864.0,985.6 L867.0,986.3 L870.0,987.0 L873.0,987.6 L876.0,988.2 L879.0,988.8 L882.0,989.3 L885.0,989.9 L888.0,990.4 L890.9,990.9 L893.7,991.4 L896.5,991.8 L899.2,992.3 L902.1,992.7 L905.2,993.1 L908.4,993.6 L912.0,994.0 L914.6,994.3 L917.3,994.6 L920.2,994.9 L923.1,995.2 L926.1,995.5 L929.2,995.8 L932.4,996.2 L935.6,996.5 L938.7,996.8 L941.9,997.0 L945.0,997.3 L948.0,997.6 L951.0,997.9 L954.0,998.1 L957.0,998.4 L960.0,998.6 L963.0,998.9 L966.0,999.1 L969.0,999.4 L972.0,999.6 L975.0,999.8 L978.0,1000.0 L981.0,1000.2 L984.0,1000.4 L986.9,1000.6 L989.5,1000.7 L992.1,1000.9 L994.5,1001.0 L996.9,1001.1 L999.5,1001.2 L1002.1,1001.4 L1005.0,1001.5 L1008.2,1001.5 L1011.7,1001.6 L1015.6,1001.7 L1020.0,1001.8 L1022.4,1001.8 L1025.0,1001.9 L1027.8,1001.9 L1030.8,1001.9 L1033.9,1002.0 L1037.2,1002.0 L1040.6,1002.0 L1044.1,1002.0 L1047.7,1002.1 L1051.4,1002.1 L1055.0,1002.1 L1058.7,1002.1 L1062.3,1002.1 L1065.9,1002.2 L1069.5,1002.2 L1072.9,1002.2 L1076.3,1002.2 L1079.5,1002.2 L1082.6,1002.2 L1085.4,1002.2 L1088.1,1002.3 L1090.6,1002.3 L1092.9,1002.3 L1094.8,1002.3 L1096.5,1002.3" fill="none" stroke="#959595" stroke-width="3.4" stroke-linejoin="round" stroke-linecap="butt" />
<path d="M479.0,912.8 L480.4,915.6 L482.6,919.4 L485.4,922.9 L487.5,924.9 L489.8,926.7 L493.0,928.2 L498.1,929.3 L500.4,929.5 L503.1,929.7 L506.1,929.9 L509.4,930.0 L512.8,930.0 L516.4,930.0 L519.9,930.0 L523.5,929.9 L527.0,929.8 L530.3,929.7 L533.4,929.5 L536.2,929.3 L540.0,928.9 L543.6,928.5 L546.9,927.9 L550.0,927.3 L553.0,926.6 L555.9,925.9 L558.8,925.1 L561.6,924.2 L564.8,923.2 L567.8,922.1 L570.7,921.0 L573.5,919.8 L576.3,918.4 L579.1,916.9 L582.0,915.3 L584.6,913.7 L587.2,911.9 L589.8,910.1 L592.5,908.1 L595.1,906.1 L597.6,904.1 L600.0,902.0 L602.3,900.1 L604.7,898.0 L607.0,895.9 L609.2,893.8 L611.2,891.7 L613.3,889.5 L615.4,887.2 L617.5,884.8 L619.4,882.5 L621.4,880.0 L623.3,877.4 L625.3,874.8 L627.2,872.1 L629.2,869.5 L631.0,867.0 L632.8,864.5 L634.8,861.8 L636.6,859.1 L638.4,856.4 L640.2,853.8 L641.9,851.3 L643.7,849.0 L645.5,846.7 L648.0,843.7 L650.6,840.9 L653.1,838.3 L655.7,835.9 L658.2,834.0 L661.4,832.1 L664.7,830.7 L667.9,829.8 L670.9,829.4 L674.4,829.5 L677.5,830.5 L681.0,832.7 L683.0,834.3 L685.0,836.3 L687.2,838.6 L689.4,841.2 L691.6,843.9 L693.7,846.7 L695.5,849.2 L697.3,852.0 L699.1,854.8 L701.0,857.8 L702.8,860.8 L704.6,863.9 L706.4,867.0 L708.0,869.7 L709.5,872.5 L711.1,875.4 L712.6,878.3 L714.2,881.2 L715.8,884.1 L717.5,887.0 L719.2,889.9 L720.8,892.4 L722.4,895.0 L724.0,897.5 L725.6,900.1 L727.3,902.6 L729.1,905.2 L730.8,907.7 L732.6,910.3 L734.4,912.8 L736.2,915.4 L738.1,918.0 L740.0,920.6 L742.0,923.2 L744.0,925.8 L746.0,928.4 L748.0,930.9 L750.1,933.3 L752.2,935.6 L754.6,938.1 L756.9,940.4 L759.3,942.6 L761.8,944.8 L764.3,946.9 L766.9,949.1 L769.6,951.2 L772.5,953.4 L775.0,955.2 L777.6,957.1 L780.4,959.1 L783.2,961.0 L786.1,963.0 L788.9,964.8 L791.7,966.6 L794.4,968.3 L796.9,969.8 L799.2,971.2 L802.5,973.0 L805.3,974.4 L807.8,975.5 L810.2,976.4 L812.9,977.3 L816.0,978.4 L818.7,979.3 L821.5,980.3 L824.5,981.2 L827.5,982.2 L830.7,983.1 L833.8,984.0 L837.0,984.8 L840.0,985.6 L843.0,986.3 L846.0,987.0 L849.0,987.6 L852.0,988.2 L855.0,988.8 L858.0,989.3 L861.0,989.9 L864.0,990.4 L867.0,990.9 L870.0,991.4 L873.0,991.9 L876.0,992.4 L879.0,992.8 L882.0,993.2 L885.0,993.6 L888.0,994.0 L890.9,994.4 L893.7,994.7 L896.5,995.0 L899.2,995.3 L902.1,995.6 L905.2,995.8 L908.4,996.1 L912.0,996.4 L914.5,996.6 L917.2,996.8 L919.9,997.0 L922.7,997.2 L925.5,997.5 L928.5,997.7 L931.5,997.9 L934.7,998.1 L937.9,998.3 L941.2,998.5 L944.5,998.6 L948.0,998.8 L950.6,998.9 L953.1,999.0 L955.5,999.1 L957.9,999.2 L960.4,999.3 L962.8,999.4 L965.3,999.4 L968.0,999.5 L970.7,999.6 L973.6,999.6 L976.7,999.7 L980.0,999.8 L983.6,999.8 L987.4,999.9 L991.5,999.9 L996.0,1000.0 L998.3,1000.0 L1000.9,1000.1 L1003.5,1000.1 L1006.4,1000.1 L1009.3,1000.1 L1012.4,1000.2 L1015.6,1000.2 L1018.9,1000.2 L1022.3,1000.2 L1025.8,1000.2 L1029.3,1000.3 L1032.9,1000.3 L1036.5,1000.3 L1040.2,1000.3 L1043.8,1000.3 L1047.4,1000.4 L1051.1,1000.4 L1054.7,1000.4 L1058.2,1000.4 L1061.7,1000.4 L1065.1,1000.5 L1068.5,1000.5 L1071.8,1000.5 L1074.9,1000.5 L1078.0,1000.5 L1080.9,1000.5 L1083.6,1000.5 L1086.2,1000.5 L1088.7,1000.6 L1090.9,1000.6 L1093.0,1000.6 L1094.9,1000.6 L1096.5,1000.6" fill="none" stroke="#5BAB06" stroke-width="3.4" stroke-linejoin="round" stroke-linecap="butt" />
<path d="M479.0,920.7 L480.6,921.4 L482.7,922.4 L485.8,923.6 L490.5,924.5 L492.7,924.8 L495.4,925.0 L498.3,925.2 L501.5,925.5 L504.8,925.7 L508.1,925.8 L511.5,926.0 L514.8,926.3 L518.0,926.5 L520.9,926.7 L523.5,927.0 L527.6,927.6 L531.3,928.4 L534.6,929.1 L537.7,929.9 L540.7,930.4 L543.8,930.8 L547.4,930.9 L550.7,930.7 L554.1,930.4 L557.6,930.0 L561.6,929.6 L564.5,929.3 L567.7,929.0 L571.0,928.7 L574.5,928.4 L577.9,928.0 L581.2,927.7 L584.3,927.3 L587.0,927.0 L590.6,926.6 L593.6,926.3 L596.3,926.0 L599.1,925.4 L602.3,924.5 L605.0,923.6 L607.9,922.5 L610.9,921.2 L614.0,919.8 L617.0,918.4 L619.9,917.0 L622.6,915.6 L625.5,914.0 L628.1,912.4 L630.7,910.7 L633.1,909.0 L635.5,907.3 L637.8,905.4 L640.5,903.0 L643.1,900.6 L645.5,898.0 L648.0,895.4 L650.5,892.7 L652.6,890.4 L654.8,888.0 L656.9,885.5 L659.0,883.1 L661.2,880.8 L663.3,878.8 L665.9,876.6 L668.6,874.7 L671.3,872.9 L673.8,871.4 L676.0,869.9 L678.8,867.4 L681.1,865.2 L683.6,864.8 L685.9,866.4 L688.3,869.3 L690.9,872.5 L693.7,875.0 L696.7,876.3 L699.9,877.0 L703.2,877.6 L706.4,878.8 L708.9,880.3 L711.4,882.0 L713.9,883.9 L716.5,885.8 L719.2,887.7 L722.0,889.4 L725.0,891.0 L728.0,892.7 L731.2,894.5 L734.4,896.6 L736.8,898.3 L739.2,900.2 L741.7,902.1 L744.3,904.2 L746.9,906.3 L749.5,908.4 L752.2,910.5 L754.6,912.4 L757.2,914.3 L759.7,916.2 L762.4,918.2 L765.0,920.2 L767.5,922.1 L770.1,924.0 L772.5,925.8 L775.3,927.8 L778.0,929.9 L780.8,932.0 L783.4,934.0 L785.9,935.7 L788.2,937.3 L790.3,938.5 L793.6,939.6 L796.0,939.5 L799.2,940.3 L801.5,941.4 L803.9,942.9 L806.7,944.5 L809.6,946.3 L812.7,948.1 L816.0,949.9 L818.7,951.2 L821.5,952.5 L824.5,953.9 L827.5,955.2 L830.7,956.6 L833.8,958.0 L837.0,959.3 L840.0,960.7 L843.0,962.1 L846.0,963.5 L849.0,964.9 L852.0,966.3 L855.0,967.7 L858.0,969.1 L861.0,970.3 L864.0,971.5 L867.0,972.6 L870.0,973.6 L873.0,974.5 L876.0,975.4 L879.0,976.2 L882.0,977.1 L885.0,977.9 L888.0,978.7 L891.0,979.5 L894.0,980.3 L897.0,981.1 L900.0,981.9 L903.0,982.7 L906.0,983.4 L909.0,984.1 L912.0,984.7 L915.0,985.3 L918.0,985.8 L921.0,986.2 L924.0,986.6 L927.0,987.1 L930.0,987.5 L933.0,987.9 L936.0,988.3 L938.9,988.8 L941.7,989.2 L944.5,989.7 L947.2,990.1 L950.1,990.6 L953.2,991.0 L956.4,991.5 L960.0,991.9 L962.6,992.2 L965.3,992.5 L968.2,992.8 L971.1,993.1 L974.1,993.3 L977.2,993.6 L980.4,993.9 L983.6,994.2 L986.7,994.4 L989.9,994.7 L993.0,994.9 L996.0,995.1 L999.0,995.3 L1002.0,995.5 L1005.0,995.6 L1008.0,995.8 L1011.0,995.9 L1014.0,996.0 L1017.0,996.2 L1020.0,996.3 L1023.0,996.4 L1026.0,996.5 L1029.0,996.6 L1032.0,996.7 L1035.0,996.8 L1038.1,996.9 L1041.2,997.0 L1044.3,997.0 L1047.4,997.1 L1050.5,997.2 L1053.5,997.2 L1056.6,997.3 L1059.5,997.3 L1062.4,997.4 L1065.3,997.4 L1068.0,997.5 L1071.7,997.6 L1075.4,997.6 L1079.1,997.7 L1082.7,997.7 L1086.2,997.8 L1089.4,997.8 L1092.2,997.8 L1094.6,997.9 L1096.5,997.9" fill="none" stroke="#3A62A8" stroke-width="3.2" stroke-linejoin="round" stroke-linecap="butt" />
<path d="M479.0,920.7 L480.6,921.7 L482.3,922.2 L483.9,923.0 L485.6,922.5 L487.2,920.3 L488.9,925.3 L490.5,925.6 L492.2,924.3 L494.0,924.7 L495.7,925.5 L497.4,922.3 L499.2,926.2 L500.9,923.6 L502.7,922.7 L504.4,923.9 L506.1,926.7 L507.9,923.9 L509.6,927.0 L511.3,928.4 L513.1,925.9 L514.8,925.4 L516.6,926.1 L518.3,927.3 L520.0,927.9 L521.8,927.2 L523.5,927.5 L525.2,924.7 L526.9,925.4 L528.6,926.3 L530.3,929.3 L532.0,927.2 L533.6,929.0 L535.3,926.2 L537.0,926.8 L538.7,928.3 L540.4,930.8 L542.1,931.3 L543.8,931.5 L545.6,929.2 L547.4,930.4 L549.1,929.9 L550.9,929.8 L552.7,927.8 L554.5,932.0 L556.3,928.0 L558.0,932.2 L559.8,931.9 L561.6,926.6 L563.3,928.9 L565.0,930.7 L566.7,931.4 L568.4,928.3 L570.1,927.1 L571.8,926.6 L573.5,930.6 L575.1,926.3 L576.8,928.2 L578.5,925.6 L580.2,927.5 L581.9,929.8 L583.6,925.0 L585.3,928.7 L587.0,926.7 L588.7,928.6 L590.4,927.3 L592.1,924.4 L593.8,927.8 L595.5,925.2 L597.2,922.4 L598.9,922.0 L600.6,924.4 L602.3,923.9 L603.9,922.4 L605.4,920.8 L607.0,921.3 L608.5,920.4 L610.1,922.7 L611.7,917.3 L613.2,920.8 L614.8,920.6 L616.4,915.9 L617.9,919.7 L619.5,917.9 L621.0,918.2 L622.6,914.1 L624.1,913.6 L625.6,912.7 L627.2,915.0 L628.7,911.7 L630.2,909.4 L631.7,908.8 L633.2,906.9 L634.8,904.6 L636.3,903.9 L637.8,907.0 L639.1,902.6 L640.3,905.0 L641.6,899.9 L642.9,898.7 L644.1,898.8 L645.4,895.7 L646.7,895.5 L648.0,897.5 L649.2,895.8 L650.5,894.1 L651.7,891.9 L652.8,892.2 L654.0,891.1 L655.2,887.6 L656.3,887.3 L657.5,882.3 L658.6,884.9 L659.8,882.0 L661.0,882.4 L662.1,880.6 L663.3,877.3 L664.7,875.0 L666.1,878.9 L667.5,873.4 L668.9,874.4 L670.4,872.7 L671.8,871.4 L673.2,872.9 L674.6,873.3 L676.0,868.3 L677.5,869.5 L679.0,866.4 L680.6,866.9 L682.1,864.9 L683.6,862.6 L684.9,863.9 L686.1,865.4 L687.4,870.6 L688.7,869.6 L689.9,869.3 L691.2,874.4 L692.4,876.2 L693.7,874.4 L695.5,873.2 L697.3,874.1 L699.1,874.0 L701.0,876.0 L702.8,875.1 L704.6,876.5 L706.4,877.1 L707.8,879.9 L709.2,882.6 L710.7,882.9 L712.1,882.0 L713.5,883.0 L714.9,884.6 L716.4,884.7 L717.8,885.5 L719.2,884.9 L720.7,887.0 L722.2,891.8 L723.8,888.0 L725.3,891.0 L726.8,892.6 L728.3,894.8 L729.8,892.0 L731.4,893.2 L732.9,894.0 L734.4,895.7 L735.8,897.1 L737.1,901.0 L738.5,901.5 L739.9,902.7 L741.2,899.0 L742.6,900.1 L744.0,905.0 L745.4,907.1 L746.7,905.8 L748.1,907.5 L749.5,905.3 L750.8,908.5 L752.2,912.6 L753.7,913.1 L755.1,914.4 L756.6,916.1 L758.0,913.2 L759.5,913.5 L760.9,914.8 L762.4,918.0 L763.8,920.0 L765.2,922.5 L766.7,922.4 L768.1,923.0 L769.6,924.8 L771.0,924.2 L772.5,925.8 L774.0,924.0 L775.5,929.2 L777.0,927.2 L778.4,932.1 L779.9,931.6 L781.4,930.8 L782.9,930.8 L784.4,932.6 L785.8,935.8 L787.3,937.2 L788.8,935.0 L790.3,935.8 L792.1,938.7 L793.9,939.4 L795.6,938.7 L797.4,938.1 L799.2,940.6 L800.7,938.1 L802.3,940.6 L803.8,942.4 L805.3,946.1 L806.8,945.2 L808.4,947.4 L809.9,946.0 L811.4,945.5 L812.9,946.4 L814.5,951.3 L816.0,950.7 L817.6,949.2 L819.2,948.4 L820.8,951.8 L822.4,953.5 L824.0,952.8 L825.6,952.6 L827.2,955.6 L828.8,957.7 L830.4,954.6 L832.0,954.2 L833.6,956.6 L835.2,957.8 L836.8,960.0 L838.4,958.0 L840.0,962.1 L841.6,962.5 L843.2,961.9 L844.8,960.9 L846.4,965.9 L848.0,962.9 L849.6,966.5 L851.2,963.9 L852.8,964.6 L854.4,968.3 L856.0,966.5 L857.6,970.9 L859.2,969.0 L860.8,968.0 L862.4,968.9 L864.0,970.7 L865.7,972.6 L867.4,974.7 L869.1,970.8 L870.9,972.7 L872.6,972.2 L874.3,976.9 L876.0,972.8 L877.7,972.8 L879.4,973.4 L881.1,975.7 L882.9,979.1 L884.6,979.5 L886.3,979.2 L888.0,981.2 L889.7,981.2 L891.4,978.3 L893.1,977.9 L894.9,982.6 L896.6,981.9 L898.3,978.4 L900.0,982.3 L901.7,981.1 L903.4,981.6 L905.1,981.7 L906.9,981.3 L908.6,980.8 L910.3,982.7 L912.0,983.6 L913.7,987.2 L915.4,982.8 L917.1,987.8 L918.9,983.8 L920.6,984.9 L922.3,987.7 L924.0,988.0 L925.7,986.1 L927.4,984.2 L929.1,986.8 L930.9,986.5 L932.6,989.8 L934.3,986.0 L936.0,987.2 L937.7,990.5 L939.4,985.9 L941.1,988.3 L942.9,990.8 L944.6,990.8 L946.3,987.0 L948.0,987.2 L949.7,987.6 L951.4,992.7 L953.1,989.2 L954.9,992.2 L956.6,993.3 L958.3,990.4 L960.0,990.3 L961.7,994.3 L963.4,992.6 L965.1,990.7 L966.9,993.4 L968.6,991.3 L970.3,991.3 L972.0,989.9 L973.7,994.3 L975.4,995.3 L977.1,993.9 L978.9,995.8 L980.6,990.8 L982.3,992.1 L984.0,993.6 L985.7,996.4 L987.4,996.6 L989.1,993.6 L990.9,992.9 L992.6,994.1 L994.3,994.6 L996.0,997.2 L997.7,993.1 L999.4,996.6 L1001.1,996.4 L1002.9,996.9 L1004.6,996.7 L1006.3,995.9 L1008.0,994.4 L1009.7,994.4 L1011.4,994.7 L1013.1,997.1 L1014.9,993.3 L1016.6,994.0 L1018.3,997.2 L1020.0,994.5 L1021.7,993.5 L1023.4,993.4 L1025.1,996.4 L1026.9,995.2 L1028.6,998.9 L1030.3,998.5 L1032.0,999.1 L1033.7,995.1 L1035.4,994.1 L1037.1,994.3 L1038.9,996.5 L1040.6,997.8 L1042.3,996.3 L1044.0,995.2 L1045.7,996.2 L1047.4,997.4 L1049.1,997.8 L1050.9,998.2 L1052.6,998.8 L1054.3,997.8 L1056.0,994.8 L1057.7,998.9 L1059.4,995.9 L1061.1,997.4 L1062.9,996.4 L1064.6,998.5 L1066.3,995.5 L1068.0,995.8 L1069.8,995.8 L1071.6,995.3 L1073.3,999.4 L1075.1,997.7 L1076.9,996.4 L1078.7,996.8 L1080.5,1000.1 L1082.2,997.4 L1084.0,995.9 L1085.8,999.2 L1087.6,998.3 L1089.4,1000.2 L1091.2,995.3 L1092.9,997.4 L1094.7,999.4 L1096.5,999.5" fill="none" stroke="#3A62A8" stroke-width="2.2" stroke-linejoin="round" stroke-linecap="butt" />
<path d="M479.7,514.4 L479.8,516.2 L479.9,518.6 L480.0,521.3 L480.2,524.4 L480.3,527.8 L480.5,531.3 L480.7,534.9 L480.9,538.4 L481.1,541.9 L481.4,545.1 L481.6,548.0 L482.0,551.6 L482.4,555.1 L482.8,558.3 L483.2,561.5 L483.7,564.6 L484.2,567.8 L484.7,571.0 L485.2,574.4 L485.7,577.5 L486.2,580.8 L486.7,584.1 L487.2,587.5 L487.7,590.9 L488.3,594.2 L488.8,597.3 L489.4,600.3 L490.0,603.1 L490.9,606.9 L491.9,610.5 L492.9,613.7 L493.9,616.8 L494.9,619.6 L496.0,622.3 L497.7,626.0 L499.6,629.2 L501.5,632.0 L503.2,634.3 L506.1,637.4 L509.2,639.1 L513.4,640.2 L518.0,640.5 L520.8,640.6 L523.7,640.4 L527.2,639.1 L529.3,637.9 L531.6,636.4 L534.1,634.6 L536.6,632.6 L539.1,630.5 L541.6,628.3 L543.6,626.4 L545.6,624.4 L547.5,622.4 L549.5,620.2 L551.5,617.9 L553.7,615.4 L556.0,612.7 L557.7,610.7 L559.5,608.5 L561.4,606.2 L563.3,603.9 L565.3,601.4 L567.3,598.9 L569.3,596.4 L571.3,593.9 L573.3,591.3 L575.2,588.8 L577.1,586.3 L579.0,583.7 L581.0,581.1 L582.9,578.4 L584.8,575.8 L586.7,573.1 L588.6,570.4 L590.6,567.7 L592.5,565.1 L594.4,562.4 L596.3,559.8 L598.2,557.1 L600.1,554.4 L602.0,551.8 L603.9,549.1 L605.9,546.5 L607.8,543.8 L609.7,541.2 L611.6,538.6 L613.5,536.0 L615.4,533.4 L617.3,530.8 L619.3,528.1 L621.2,525.5 L623.1,522.9 L625.0,520.4 L626.9,517.8 L628.9,515.3 L630.8,512.9 L632.7,510.6 L634.8,508.1 L637.0,505.6 L639.2,503.3 L641.4,500.9 L643.5,498.7 L645.7,496.5 L647.8,494.3 L649.9,492.2 L651.9,490.2 L654.4,487.6 L656.8,485.1 L659.1,482.7 L661.5,480.4 L663.8,478.1 L666.2,476.1 L668.7,474.2 L671.4,472.5 L674.2,470.9 L677.1,469.4 L680.0,468.1 L682.9,466.9 L685.5,465.9 L687.9,465.0 L691.5,464.0 L694.6,463.5 L697.3,463.4 L700.0,463.3 L703.1,463.2 L705.9,463.3 L709.5,464.0 L712.4,464.7 L715.7,465.5 L719.2,466.5 L722.8,467.9 L726.3,469.6 L728.7,471.1 L731.0,472.7 L733.4,474.4 L735.7,476.4 L738.1,478.5 L740.6,480.8 L743.1,483.2 L745.1,485.2 L747.2,487.4 L749.3,489.8 L751.5,492.2 L753.6,494.7 L755.8,497.2 L758.0,499.8 L760.2,502.3 L762.3,504.8 L764.5,507.3 L766.7,509.8 L768.9,512.3 L771.1,514.8 L773.3,517.3 L775.4,519.9 L777.5,522.4 L779.6,525.0 L781.5,527.6 L783.3,530.1 L784.9,532.5 L786.3,534.9 L787.8,537.3 L789.2,539.7 L790.7,542.3 L792.3,545.1 L794.2,548.1 L796.3,551.4 L797.7,553.6 L799.2,555.9 L800.8,558.3 L802.4,560.9 L804.1,563.5 L805.9,566.2 L807.7,569.0 L809.5,571.8 L811.4,574.5 L813.2,577.3 L815.1,580.1 L816.9,582.8 L818.7,585.4 L820.5,588.0 L822.3,590.4 L824.3,593.1 L826.3,595.7 L828.3,598.3 L830.3,600.9 L832.3,603.3 L834.3,605.8 L836.3,608.2 L838.3,610.6 L840.3,613.0 L842.3,615.5 L844.3,617.9 L846.3,620.3 L848.3,622.8 L850.3,625.3 L852.3,627.8 L854.3,630.4 L856.3,632.9 L858.3,635.4 L860.3,638.0 L862.3,640.5 L864.3,643.0 L866.3,645.5 L868.3,648.0 L870.3,650.5 L872.3,652.9 L874.3,655.3 L876.3,657.7 L878.3,660.0 L880.3,662.3 L882.3,664.6 L884.3,666.9 L886.3,669.2 L888.2,671.4 L890.2,673.7 L892.2,675.9 L894.2,678.0 L896.2,680.2 L898.2,682.4 L900.2,684.5 L902.4,686.8 L904.5,689.1 L906.7,691.3 L908.9,693.5 L911.0,695.7 L913.2,697.9 L915.4,700.1 L917.5,702.2 L919.7,704.3 L921.9,706.4 L924.0,708.5 L926.2,710.5 L928.6,712.7 L930.9,714.8 L933.3,717.0 L935.7,719.1 L938.0,721.1 L940.4,723.2 L942.8,725.2 L945.1,727.2 L947.5,729.2 L949.8,731.2 L952.2,733.2 L954.6,735.2 L956.9,737.2 L959.3,739.2 L961.6,741.1 L964.0,743.1 L966.3,745.0 L968.7,746.9 L971.0,748.8 L973.4,750.7 L975.7,752.5 L978.1,754.3 L980.7,756.2 L983.3,758.1 L985.9,760.0 L988.5,761.8 L991.1,763.6 L993.7,765.3 L996.3,767.1 L998.9,768.8 L1001.5,770.5 L1004.1,772.2 L1006.7,773.9 L1009.3,775.6 L1011.9,777.2 L1014.5,778.9 L1017.1,780.5 L1019.7,782.1 L1022.3,783.7 L1024.9,785.3 L1027.5,786.9 L1030.1,788.4 L1033.0,790.1 L1035.9,791.8 L1038.7,793.4 L1041.6,795.1 L1044.5,796.7 L1047.4,798.3 L1050.2,799.9 L1053.1,801.5 L1056.0,803.0 L1058.9,804.5 L1062.0,806.1 L1065.1,807.7 L1068.2,809.2 L1071.2,810.7 L1074.2,812.2 L1077.0,813.6 L1079.6,814.8 L1082.0,816.0 L1085.9,817.8 L1089.3,819.4 L1092.2,820.7 L1094.6,821.8 L1096.4,822.6" fill="none" stroke="#E5932B" stroke-width="2.8" stroke-linejoin="round" stroke-linecap="butt" />
<line x1="370.5" y1="302" x2="267" y2="482" stroke="#000" stroke-width="4"/>
<polygon points="257.7,498 263.2,471.4 278.8,478.7" fill="#000"/>
<line x1="765.5" y1="65.4" x2="878.5" y2="65.4" stroke="#E38E1E" stroke-width="4.3"/>
<line x1="765.5" y1="135.8" x2="879" y2="135.8" stroke="#5BAB06" stroke-width="5.0"/>
<line x1="766" y1="211.9" x2="879" y2="211.9" stroke="#989898" stroke-width="4.4"/>
<line x1="768.5" y1="283.2" x2="882" y2="283.2" stroke="#3A62A8" stroke-width="3.9"/>
<rect x="363" y="289.2" width="335" height="3" fill="#222"/>
<text x="878" y="82" font-family="'Liberation Serif', serif" font-size="51.5" stroke="#111" stroke-width="0.3" fill="#111" textLength="165.5" lengthAdjust="spacingAndGlyphs" >Au/ZnO</text>
<text x="878" y="152.4" font-family="'Liberation Serif', serif" font-size="51.5" stroke="#111" stroke-width="0.3" fill="#111" textLength="254.5" lengthAdjust="spacingAndGlyphs" >Au/ZnO@Si</text>
<text x="878" y="228.3" font-family="'Liberation Serif', serif" font-size="51.5" stroke="#111" stroke-width="0.3" fill="#111" textLength="391.6" lengthAdjust="spacingAndGlyphs" >Au/ZnO@Si-c(0.5)</text>
<text x="881.5" y="298.7" font-family="'Liberation Serif', serif" font-size="51.5" stroke="#111" stroke-width="0.3" fill="#111" textLength="390" lengthAdjust="spacingAndGlyphs" >Au/ZnO@Si-c(2.0)</text>
<text x="364.2" y="284.2" font-family="'Liberation Serif', serif" font-size="51.5" stroke="#111" stroke-width="0.3" fill="#111" textLength="333" lengthAdjust="spacingAndGlyphs" >Absorption edge</text>
<text x="50.7" y="1234" font-family="'Liberation Serif', serif" font-size="50" font-weight="bold" fill="#000" textLength="76.4" lengthAdjust="spacingAndGlyphs" >300</text>
<text x="306.1" y="1234" font-family="'Liberation Serif', serif" font-size="50" font-weight="bold" fill="#000" textLength="76.4" lengthAdjust="spacingAndGlyphs" >400</text>
<text x="561.5999999999999" y="1234" font-family="'Liberation Serif', serif" font-size="50" font-weight="bold" fill="#000" textLength="76.4" lengthAdjust="spacingAndGlyphs" >500</text>
<text x="815.4" y="1234" font-family="'Liberation Serif', serif" font-size="50" font-weight="bold" fill="#000" textLength="76.4" lengthAdjust="spacingAndGlyphs" >600</text>
<text x="1071.6" y="1234" font-family="'Liberation Serif', serif" font-size="50" font-weight="bold" fill="#000" textLength="76.4" lengthAdjust="spacingAndGlyphs" >700</text>
<text x="1326.0" y="1234" font-family="'Liberation Serif', serif" font-size="50" font-weight="bold" fill="#000" textLength="76.4" lengthAdjust="spacingAndGlyphs" >800</text>
<text x="520.2" y="1283.3" font-family="'Liberation Serif', serif" font-size="50" font-weight="bold" fill="#000" textLength="400" lengthAdjust="spacingAndGlyphs" >Wavelength ( nm )</text>
<text transform="translate(50.9,779) rotate(-90)" x="0" y="0" font-family="'Liberation Serif', serif" font-size="50" font-weight="bold" fill="#000" textLength="402.4" lengthAdjust="spacingAndGlyphs">Absorbance ( a.u. )</text>
</g>
</svg>
</body></html>
